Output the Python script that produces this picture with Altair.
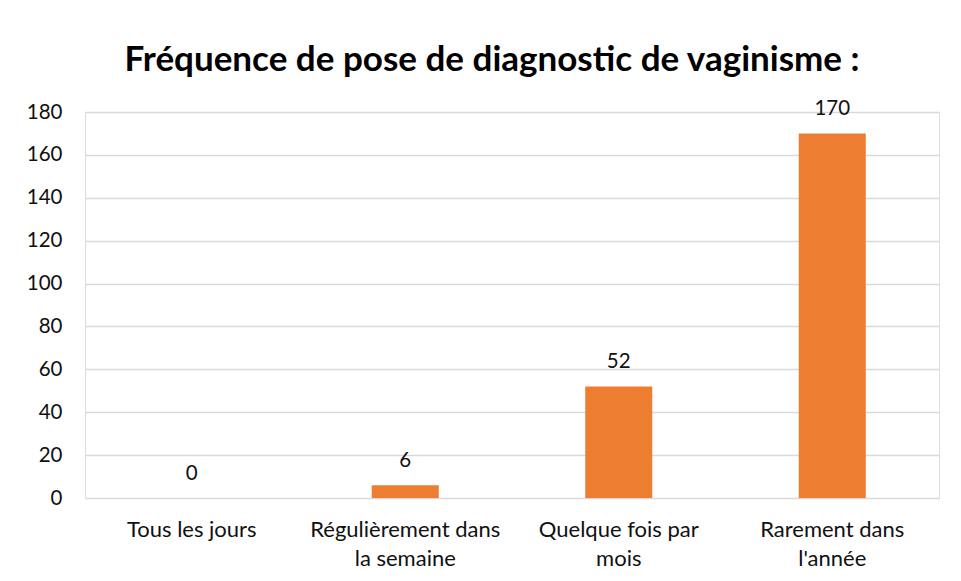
import altair as alt
import pandas as pd

categories = ["Tous les jours", "Régulièrement dans\nla semaine", "Quelque fois par\nmois", "Rarement dans\nl'année"]
values = [0, 6, 52, 170]
y_ticks = [0, 20, 40, 60, 80, 100, 120, 140, 160, 180]

df = pd.DataFrame({"cat": categories, "val": values})

FONT = "Lato"
TXT = "#111111"

x = alt.X("cat:N", sort=categories, title=None,
          scale=alt.Scale(paddingInner=0.686, paddingOuter=0.343),
          axis=alt.Axis(labelAngle=0, labelExpr="split(datum.label, '\\n')",
                        labelFont=FONT, labelFontSize=22, labelColor=TXT,
                        labelLineHeight=29, labelPadding=21, labelLimit=400,
                        ticks=False, domain=False, grid=False))
y = alt.Y("val:Q", title=None,
          scale=alt.Scale(domain=[0, 180], nice=False),
          axis=alt.Axis(values=y_ticks, labelFont=FONT, labelFontSize=20.5,
                        labelColor=TXT, ticks=False, domain=False,
                        labelPadding=23, gridColor="#D9D9D9", gridWidth=1.5))

base = alt.Chart(df)
bars = base.mark_bar(color="#ED7D31").encode(x=x, y=y)
labels = base.mark_text(font=FONT, fontSize=20.5, color=TXT, baseline="alphabetic", dy=-18).encode(
    x=alt.X("cat:N", sort=categories), y="val:Q", text="val:Q")

chart = alt.layer(bars, labels).properties(
    width=854, height=386,
    title=alt.TitleParams("Fréquence de pose de diagnostic de vaginisme :",
                          font=FONT, fontSize=35, fontWeight="bold", color="#000000",
                          anchor="middle", dx=-20, offset=-7, baseline="alphabetic"),
    autosize=alt.AutoSizeParams(type="none"),
    padding={"left": 77, "top": 104, "right": 14, "bottom": 72},
).configure_view(stroke=None).configure(background="white")

chart.save("out.html", embed_options={"renderer": "svg", "actions": False})
